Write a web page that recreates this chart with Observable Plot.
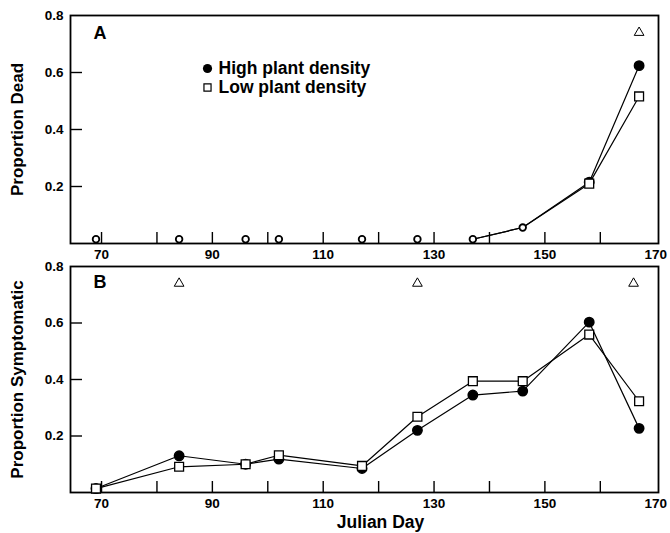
<!DOCTYPE html>
<html><head><meta charset="utf-8">
<script src="https://cdn.jsdelivr.net/npm/d3@7"></script>
<script src="https://cdn.jsdelivr.net/npm/@observablehq/plot@0.6"></script>
<style>
body{margin:0;background:#fff;}
#chart{width:670px;height:533px;background:#fff;}
#chart svg{display:block;}
</style></head><body><div id="chart"></div>
<script>
// ---- data ----
const days = [69, 84, 96, 102, 117, 127, 137, 146, 158, 167];
const deadHigh = [0.015, 0.015, 0.015, 0.015, 0.015, 0.015, 0.015, 0.056, 0.215, 0.624];
const deadLow  = [0.015, 0.015, 0.015, 0.015, 0.015, 0.015, 0.015, 0.056, 0.210, 0.516];
const sympHigh = [0.014, 0.130, 0.100, 0.118, 0.085, 0.220, 0.345, 0.359, 0.603, 0.227];
const sympLow  = [0.014, 0.091, 0.100, 0.132, 0.094, 0.268, 0.394, 0.394, 0.559, 0.323];
const deadSigDays = [167];
const sympSigDays = [84, 127, 166];
const sigLevel = 0.74;
const deadLineFrom = 137;
const xTicks = [70, 80, 90, 100, 110, 120, 130, 140, 150, 160];
const xTickLabels = [70, 90, 110, 130, 150, 170];
const yTicks = [0.2, 0.4, 0.6];
const yTickLabels = [0.2, 0.4, 0.6, 0.8];
const legendLabels = ["High plant density", "Low plant density"];
const panelLabels = ["A", "B"];
const yTitles = ["Proportion Dead", "Proportion Symptomatic"];
const xTitle = "Julian Day";

const xDomain = [64.4, 170.5];
const yDomain = [0, 0.8];
const font = "'Liberation Sans', Arial, Helvetica, sans-serif";

function axes() {
  return [
    Plot.axisX({ticks: xTicks, tickSize: -11, tickFormat: () => "", label: null, strokeWidth: 1.4}),
    Plot.axisX({ticks: xTickLabels, tickSize: 0, tickPadding: 6, tickFormat: d => String(d), label: null}),
    Plot.axisY({ticks: yTicks, tickSize: -12, tickFormat: () => "", label: null, strokeWidth: 1.4}),
    Plot.axisY({ticks: yTickLabels, tickSize: 0, tickPadding: 7, tickFormat: d3.format(".1f"), label: null}),
    Plot.frame({stroke: "#000", strokeWidth: 1.8})
  ];
}
const style = {fontFamily: font, fontWeight: "bold", fontSize: "13.5px", color: "#000", background: "#fff", overflow: "visible"};

// ---- Panel A ----
const rowsA = days.map((d, i) => ({day: d, high: deadHigh[i], low: deadLow[i]}));
const plotA = Plot.plot({
  width: 670, height: 262,
  marginTop: 15, marginBottom: 19, marginLeft: 70, marginRight: 12,
  x: {domain: xDomain}, y: {domain: yDomain},
  style,
  marks: [
    ...axes(),
    Plot.line(rowsA.filter(d => d.day >= deadLineFrom), {x: "day", y: "high", stroke: "#000", strokeWidth: 1.2}),
    Plot.line(rowsA.filter(d => d.day >= deadLineFrom), {x: "day", y: "low", stroke: "#000", strokeWidth: 1.2}),
    Plot.dot(rowsA.filter(d => d.high === d.low), {x: "day", y: "high", r: 3.3, stroke: "#000", fill: "#fff", strokeWidth: 1.8}),
    Plot.dot(rowsA.filter(d => d.high !== d.low), {x: "day", y: "high", r: 4.7, fill: "#000", stroke: "#000"}),
    Plot.dot(rowsA.filter(d => d.high !== d.low), {x: "day", y: "low", symbol: "square", r: 5, fill: "#fff", stroke: "#000", strokeWidth: 1.3}),
    Plot.dot(deadSigDays, {x: d => d, y: () => sigLevel, symbol: "triangle", r: 3.6, fill: "#fff", stroke: "#000", strokeWidth: 1}),
    Plot.text([panelLabels[0]], {text: d => d, frameAnchor: "top-left", dx: 23, dy: 18, textAnchor: "start", lineAnchor: "middle", fontSize: 18, fontWeight: "bold"}),
    Plot.dot([legendLabels[0]], {frameAnchor: "top-left", dx: 137, dy: 53, r: 4.6, fill: "#000"}),
    Plot.dot([legendLabels[1]], {frameAnchor: "top-left", dx: 137, dy: 72, symbol: "square", r: 4, fill: "#fff", stroke: "#000", strokeWidth: 1.2}),
    Plot.text([legendLabels[0]], {text: d => d, frameAnchor: "top-left", dx: 148, dy: 53, textAnchor: "start", lineAnchor: "middle", fontSize: 17.5, fontWeight: "bold"}),
    Plot.text([legendLabels[1]], {text: d => d, frameAnchor: "top-left", dx: 148, dy: 72, textAnchor: "start", lineAnchor: "middle", fontSize: 17.5, fontWeight: "bold"}),
    Plot.text([yTitles[0]], {text: d => d, frameAnchor: "left", rotate: -90, dx: -53, textAnchor: "middle", lineAnchor: "middle", fontSize: 17, fontWeight: "bold"})
  ]
});

// ---- Panel B ----
const rowsB = days.map((d, i) => ({day: d, high: sympHigh[i], low: sympLow[i]}));
const plotB = Plot.plot({
  width: 670, height: 271,
  marginTop: 4, marginBottom: 41, marginLeft: 70, marginRight: 12,
  x: {domain: xDomain}, y: {domain: yDomain},
  style,
  marks: [
    ...axes(),
    Plot.line(rowsB, {x: "day", y: "high", stroke: "#000", strokeWidth: 1.2}),
    Plot.line(rowsB, {x: "day", y: "low", stroke: "#000", strokeWidth: 1.2}),
    Plot.dot(rowsB, {x: "day", y: "high", r: 4.7, fill: "#000", stroke: "#000"}),
    Plot.dot(rowsB, {x: "day", y: "low", symbol: "square", r: 5, fill: "#fff", stroke: "#000", strokeWidth: 1.3}),
    Plot.dot(sympSigDays, {x: d => d, y: () => sigLevel, symbol: "triangle", r: 3.6, fill: "#fff", stroke: "#000", strokeWidth: 1}),
    Plot.text([panelLabels[1]], {text: d => d, frameAnchor: "top-left", dx: 23, dy: 16, textAnchor: "start", lineAnchor: "middle", fontSize: 18, fontWeight: "bold"}),
    Plot.text([yTitles[1]], {text: d => d, frameAnchor: "left", rotate: -90, dx: -53, textAnchor: "middle", lineAnchor: "middle", fontSize: 17, fontWeight: "bold"}),
    Plot.text([xTitle], {text: d => d, frameAnchor: "bottom", dx: 16, dy: 30, textAnchor: "middle", lineAnchor: "middle", fontSize: 17.5, fontWeight: "bold"})
  ]
});

const root = document.getElementById("chart");
root.appendChild(plotA);
root.appendChild(plotB);
</script></body></html>
